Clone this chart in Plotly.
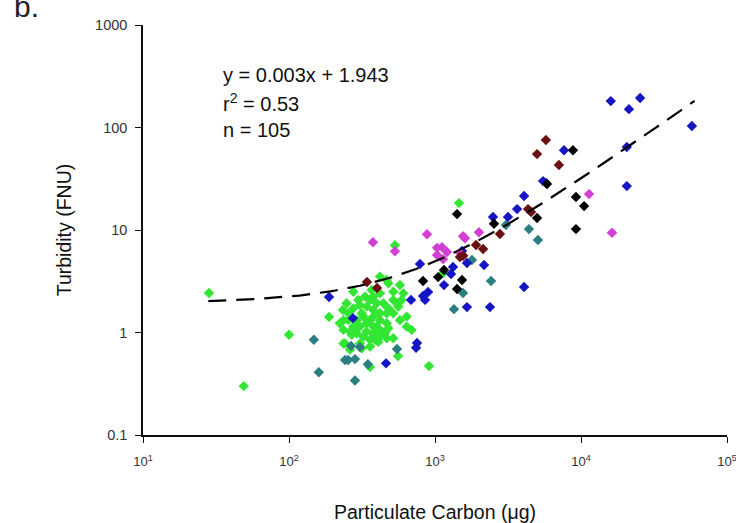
import numpy as np
import plotly.graph_objects as go

# ---- data ----
green_x = [28.3, 49, 100, 188, 532, 558, 910, 359, 1460, 1135,
           234, 248, 276, 306, 291, 236, 242, 262, 306, 323,
           340, 359, 378, 398, 420, 467, 479, 518, 575, 607,
           591, 561, 518, 467, 420, 378, 359, 378, 420, 467,
           455, 467, 420, 378, 359, 323, 306, 291, 276, 255,
           236, 223, 575, 640, 692, 640, 546, 420, 368, 332,
           298, 276, 255, 315, 340, 398, 409, 359, 315, 518,
           479, 443, 518, 378, 340, 420, 298, 269, 388, 479,
           236, 262]
green_y = [2.43, 0.30, 0.95, 1.42, 7.1, 0.59, 0.47, 0.46, 18.3, 3.8,
           1.66, 1.93, 2.50, 1.85, 1.32, 1.06, 0.78, 1.02, 1.14, 1.43,
           1.79, 2.08, 2.24, 1.93, 3.51, 3.25, 3.02, 2.50, 2.91, 2.41,
           2.08, 1.79, 1.54, 1.54, 1.54, 1.66, 1.32, 1.14, 1.32, 1.23,
           0.98, 0.88, 0.91, 0.98, 0.85, 0.91, 0.78, 0.98, 1.14, 1.32,
           1.32, 1.23, 1.32, 1.14, 1.06, 1.43, 1.93, 2.41, 2.60, 2.24,
           2.08, 1.72, 1.54, 1.54, 1.23, 1.14, 0.81, 0.73, 0.70, 0.88,
           1.10, 1.93, 2.08, 1.43, 1.02, 1.06, 1.18, 0.95, 0.85, 1.72,
           0.78, 0.68]

teal_x = [148, 160, 242, 254, 283, 266, 306, 347, 283, 549,
          1790, 2420, 1556, 1349, 3060, 4400, 5070]
teal_y = [0.85, 0.41, 0.54, 0.54, 0.55, 0.74, 0.72, 0.49, 0.34, 0.69,
          5.1, 3.18, 2.43, 1.69, 11.2, 10.2, 7.98]

blue_x = [188, 274, 789, 685, 828, 855, 896, 753, 742, 462,
          1153, 1288, 1329, 1531, 1656, 2168, 1656, 2380, 2496, 3160,
          3650, 4075, 5500, 5750, 7650, 16000, 21300, 25400, 57500, 20600,
          20600, 4075]
blue_y = [2.22, 1.38, 4.66, 2.08, 2.27, 2.08, 2.48, 0.79, 0.71, 0.50,
          2.9, 3.72, 4.35, 6.23, 4.76, 4.56, 1.77, 1.77, 13.4, 13.4,
          16.0, 21.5, 30.0, 28.8, 60, 181, 151, 194, 103.5, 64.6,
          26.8, 2.78]

black_x = [828, 1050, 1153, 1416, 1531, 1416, 2535, 5000, 5850, 8810,
           9240, 10500, 9240]
black_y = [3.18, 3.47, 4.07, 14.3, 3.25, 2.66, 11.5, 13.1, 28.1, 60,
           21.0, 17.1, 10.2]

magenta_x = [376, 532, 881, 1033, 1117, 1033, 1135, 1208, 1556, 1604,
             2000, 1483, 11350, 16300]
magenta_y = [7.6, 6.2, 9.1, 6.7, 6.8, 5.7, 5.2, 6.1, 8.7, 8.3,
             9.5, 6.0, 22.4, 9.4]

darkred_x = [342, 401, 1483, 1560, 1910, 2135, 2785, 4340, 4550, 5750,
             5000, 7060]
darkred_y = [3.11, 2.72, 5.46, 5.6, 7.15, 6.53, 9.15, 16.0, 15.0, 75.5,
             55, 43]

fit_slope = 0.003
fit_intercept = 1.943
fit_x_min, fit_x_max = 28, 60000

x_tickvals = [10, 100, 1000, 10000, 100000]
x_ticktext = ["10<sup>1</sup>", "10<sup>2</sup>", "10<sup>3</sup>",
              "10<sup>4</sup>", "10<sup>5</sup>"]
y_tickvals = [0.1, 1, 10, 100, 1000]
y_ticktext = ["0.1", "1", "10", "100", "1000"]

# ---- figure ----
FONT = "Liberation Sans, Arial, sans-serif"
fig = go.Figure()

def add_pts(xs, ys, color):
    fig.add_trace(go.Scatter(
        x=xs, y=ys, mode="markers",
        marker=dict(symbol="diamond", size=8, color=color, line=dict(width=0)),
        showlegend=False, hoverinfo="x+y"))

add_pts(green_x, green_y, "#33e633")
add_pts(teal_x, teal_y, "#2b7f80")
add_pts(blue_x, blue_y, "#1515c4")
add_pts(black_x, black_y, "#000000")
add_pts(magenta_x, magenta_y, "#d43ed4")
add_pts(darkred_x, darkred_y, "#6b1010")

fx = np.logspace(np.log10(fit_x_min), np.log10(fit_x_max), 200)
fy = fit_slope * fx + fit_intercept
fig.add_trace(go.Scatter(x=fx, y=fy, mode="lines",
                         line=dict(color="black", width=2.2, dash="18px,10px"),
                         showlegend=False, hoverinfo="skip"))

eq_lines = ["y = 0.003x + 1.943", "r<sup>2</sup> = 0.53", "n = 105"]
for i, t in enumerate(eq_lines):
    fig.add_annotation(text=t, xref="paper", yref="paper",
                       x=(221 - 143) / 584, y=1 - (75 + 27.5 * i - 25) / 410,
                       xanchor="left", yanchor="middle", showarrow=False,
                       font=dict(family=FONT, size=20, color="#111"))

fig.add_annotation(text="b.", xref="paper", yref="paper",
                   x=(26 - 143) / 584, y=1 + (25 - 25) / 410, xanchor="center", yanchor="bottom",
                   showarrow=False, font=dict(family=FONT, size=30, color="#222"))

fig.update_xaxes(type="log", range=[1, 5], tickvals=x_tickvals, ticktext=x_ticktext,
                 showgrid=False, zeroline=False, showline=True, linecolor="#111", linewidth=1.5,
                 ticks="outside", ticklen=6, tickcolor="#111", tickwidth=1.2,
                 ticklabelstandoff=8, ticklabeloverflow="allow",
                 tickfont=dict(family=FONT, size=13, color="#333"),
                 title=dict(text="Particulate Carbon (\u03bcg)", standoff=38,
                            font=dict(family=FONT, size=19.5, color="#111")))
fig.update_yaxes(type="log", range=[-1, 3], tickvals=y_tickvals, ticktext=y_ticktext,
                 showgrid=False, zeroline=False, showline=True, linecolor="#111", linewidth=1.5,
                 ticks="outside", ticklen=6, tickcolor="#111", tickwidth=1.2,
                 ticklabelstandoff=5,
                 tickfont=dict(family=FONT, size=14.5, color="#333"),
                 title=dict(text="Turbidity (FNU)", standoff=18,
                            font=dict(family=FONT, size=19.5, color="#111")))

fig.update_layout(width=736, height=523, autosize=False,
                  margin=dict(l=143, r=9, t=25, b=88, autoexpand=False),
                  paper_bgcolor="white", plot_bgcolor="white",
                  font=dict(family=FONT))

fig.write_html("out.html", config={"displayModeBar": False},
               post_script="document.body.style.margin='0';document.body.style.overflow='hidden';")
